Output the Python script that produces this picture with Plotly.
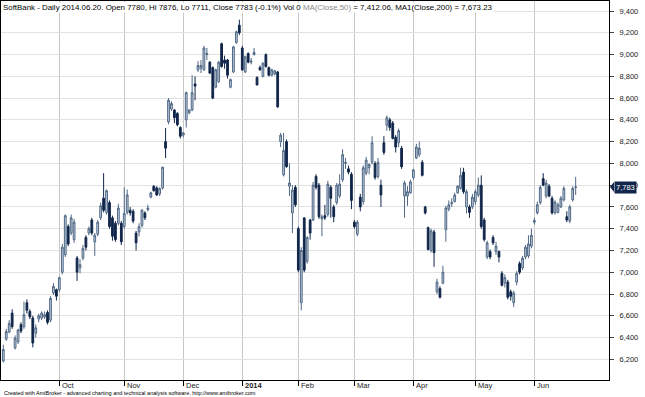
import pandas as pd
import plotly.graph_objects as go

# ---------------- data ----------------
holidays = ["2013-09-16", "2013-09-23", "2013-10-14", "2013-11-04", "2013-12-23",
            "2013-12-31", "2014-01-01", "2014-01-02", "2014-01-03", "2014-01-13",
            "2014-02-11", "2014-03-21", "2014-04-29", "2014-05-05", "2014-05-06"]
bdays = pd.bdate_range("2013-09-02", "2014-06-20")
dates = [d.strftime("%Y-%m-%d") for d in bdays if d.strftime("%Y-%m-%d") not in holidays]

opens = [
    6185, 6385, 6450, 6625, 6305, 6360, 6520, 6500, 6720, 6640, 6580, 6440, 6570, 6580, 6590, 6630, 6560, 6810, 6840,
    6840, 7000, 7160, 7420, 7360, 7300, 7130, 7040, 7130, 7320, 7360, 7480, 7280, 7350, 7500, 7680, 7550, 7640, 7500, 7450, 7450, 7450,
    7420, 7550, 7570, 7560, 7360, 7370, 7430, 7545, 7575, 7690, 7790, 7775, 7720, 7775, 8200, 8380, 8500, 8490, 8460, 8330,
    8260, 8400, 8465, 8490, 8730, 8860, 8875, 8860, 9000, 8930, 8880, 8700, 8750, 9100, 8950, 8950, 8700, 8840, 9110, 9270,
    9060, 8840, 9010, 8930, 9000, 8790, 8880, 8800, 9000, 8880, 8810, 8820, 8840, 8200, 7895, 8200, 7790, 7545, 7780,
    7400, 6720, 7500, 7100, 7480, 7480, 7880, 7800, 7490, 7520, 7530, 7780, 7600, 7640, 7700, 7850, 8000, 7950, 7900,
    7460, 7350, 7690, 7650, 7910, 7960, 8010, 8000, 7880, 7800, 8190, 8350, 8400, 8370, 8240, 8190, 8140, 7700, 7700, 7730,
    7870, 8050, 8080, 8010, 7600, 7410, 7200, 7370, 6820, 6850, 6900, 7390, 7580, 7630, 7650, 7730, 7770, 7920, 7600, 7600, 7600,
    7650, 7710, 7800, 7480, 7140, 7190, 7320, 7190, 7190, 6990, 6900, 6910, 6820, 6720, 6910, 7080, 7040, 7140, 7150, 7240,
    7460, 7545, 7640, 7860, 7700, 7790, 7680, 7545, 7550, 7600, 7665, 7510, 7470, 7665, 7780]
highs = [
    6335, 6480, 6560, 6660, 6420, 6480, 6540, 6730, 6750, 6660, 6600, 6520, 6620, 6640, 6640, 6650, 6780, 6900, 6850,
    6960, 7260, 7530, 7440, 7530, 7490, 7150, 7120, 7250, 7340, 7420, 7500, 7360, 7480, 7640, 7910, 7760, 7660, 7520, 7470, 7630, 7470,
    7780, 7760, 7600, 7580, 7380, 7450, 7580, 7560, 7620, 7740, 7800, 7790, 7780, 7970, 8325, 8600, 8570, 8500, 8470, 8340,
    8290, 8660, 8500, 8810, 8800, 8940, 8950, 9080, 9060, 8940, 8890, 8870, 8940, 9110, 8990, 8960, 8780, 9080, 9220, 9320,
    9080, 8990, 9020, 8970, 9060, 8800, 8900, 8930, 9010, 8890, 8870, 8860, 8850, 8280, 8280, 8220, 8000, 7800, 7800,
    7420, 7230, 7500, 7330, 7490, 7830, 7900, 7820, 7530, 7620, 7840, 7800, 7620, 7820, 7900, 8130, 8050, 7980, 7920,
    7480, 7480, 7720, 7980, 8060, 8000, 8250, 8020, 8050, 7850, 8250, 8440, 8420, 8390, 8260, 8320, 8160, 7840, 7790, 7850,
    7950, 8180, 8200, 8030, 7610, 7420, 7400, 7390, 6940, 6870, 7060, 7610, 7660, 7680, 7730, 7800, 7960, 7960, 7760, 7620, 7720,
    7760, 7870, 7890, 7500, 7290, 7210, 7340, 7280, 7200, 7010, 6980, 6930, 6840, 6830, 7010, 7100, 7150, 7250, 7340, 7400,
    7500, 7650, 7800, 7910, 7850, 7810, 7700, 7660, 7640, 7700, 7790, 7560, 7620, 7790, 7876]
lows = [
    6170, 6370, 6440, 6480, 6290, 6340, 6440, 6480, 6620, 6570, 6310, 6400, 6540, 6560, 6570, 6520, 6540, 6790, 6740,
    6820, 6980, 7140, 7240, 7340, 7270, 6920, 6990, 7110, 7200, 7340, 7340, 7150, 7330, 7480, 7550, 7530, 7400, 7290, 7280, 7430, 7250,
    7400, 7530, 7520, 7450, 7200, 7330, 7410, 7480, 7560, 7680, 7740, 7700, 7700, 7760, 8050, 8360, 8480, 8370, 8340, 8230,
    8240, 8330, 8450, 8480, 8580, 8840, 8830, 8850, 8950, 8820, 8590, 8690, 8740, 8880, 8870, 8780, 8690, 8830, 9100, 9180,
    8850, 8830, 8920, 8910, 8990, 8720, 8850, 8790, 8880, 8800, 8800, 8810, 8510, 8150, 7880, 7960, 7700, 7360, 7600,
    7000, 6650, 7000, 7080, 7300, 7470, 7760, 7490, 7330, 7480, 7510, 7500, 7460, 7620, 7680, 7830, 7950, 7900, 7580,
    7400, 7330, 7560, 7620, 7890, 7900, 7990, 7850, 7860, 7600, 8080, 8300, 8300, 8220, 8100, 8150, 7950, 7500, 7610, 7720,
    7850, 8040, 8060, 7880, 7530, 7200, 7180, 7050, 6800, 6760, 6890, 7280, 7560, 7600, 7640, 7720, 7760, 7720, 7540, 7500, 7580,
    7620, 7690, 7400, 7280, 7120, 7120, 7250, 7160, 7090, 6870, 6860, 6750, 6740, 6680, 6880, 6980, 7020, 7120, 7130, 7220,
    7440, 7530, 7620, 7790, 7680, 7690, 7530, 7530, 7540, 7590, 7650, 7460, 7450, 7650, 7711]
closes = [
    6290, 6455, 6530, 6500, 6395, 6470, 6460, 6610, 6650, 6590, 6350, 6490, 6600, 6625, 6610, 6540, 6760, 6870, 6780,
    6950, 7230, 7520, 7260, 7500, 7460, 7000, 7070, 7220, 7230, 7400, 7360, 7340, 7460, 7610, 7570, 7750, 7420, 7330, 7300, 7590, 7280,
    7540, 7710, 7545, 7470, 7270, 7420, 7570, 7500, 7590, 7730, 7750, 7710, 7770, 7965, 8140, 8580, 8550, 8420, 8355, 8250,
    8280, 8650, 8490, 8650, 8710, 8900, 8900, 9060, 9010, 8830, 8600, 8860, 8930, 8890, 8920, 8810, 8770, 9070, 9210, 9200,
    8860, 8980, 8930, 8940, 9020, 8720, 8860, 8920, 8890, 8810, 8860, 8850, 8520, 8260, 8120, 7970, 7820, 7755, 7620,
    7020, 7200, 7020, 7320, 7360, 7800, 7780, 7510, 7510, 7500, 7810, 7680, 7510, 7800, 7810, 8080, 8010, 7920, 7660,
    7420, 7460, 7600, 7960, 8030, 7990, 8190, 7870, 8010, 7710, 8100, 8420, 8330, 8230, 8150, 8300, 7970, 7820, 7740, 7830,
    7940, 8150, 8140, 7890, 7545, 7210, 7380, 7180, 6910, 6770, 7000, 7590, 7620, 7640, 7710, 7790, 7890, 7740, 7740, 7550, 7690,
    7740, 7800, 7420, 7300, 7270, 7140, 7270, 7240, 7140, 6880, 6950, 6770, 6780, 6810, 6990, 7000, 7130, 7230, 7260, 7340,
    7475, 7620, 7780, 7800, 7820, 7700, 7545, 7645, 7620, 7680, 7770, 7480, 7600, 7770, 7783]

month_ticks = ["2013-10-01", "2013-11-01", "2013-12-02", "2014-01-06", "2014-02-03",
               "2014-03-03", "2014-04-01", "2014-05-01", "2014-06-02"]
month_labels = ["Oct", "Nov", "Dec", "<b>2014</b>", "Feb", "Mar", "Apr", "May", "Jun"]

title_main = "SoftBank - Daily 2014.06.20. Open 7780, Hi 7876, Lo 7711, Close 7783 (-0.1%) Vol 0 "
title_ma50 = "MA(Close,50)"
title_rest = " = 7,412.06, MA1(Close,200) = 7,673.23"
footer = "Created with AmiBroker - advanced charting and technical analysis software. http://www.amibroker.com"

# ---------------- figure ----------------
FONT = "Liberation Sans, Arial, sans-serif"
UP_FILL, UP_LINE = "#c3cfdc", "#4f6886"
DN_FILL, DN_LINE = "#10264a", "#10264a"

W, H = 645, 397
ML, MR, MT, MB = 1, 36, 1, 17
PW, PH = W - ML - MR, H - MT - MB

y_lo, y_hi = 6010, 9492
x_lo, x_hi = -0.78, 205.3

fig = go.Figure(go.Candlestick(
    x=dates, open=opens, high=highs, low=lows, close=closes,
    increasing=dict(fillcolor=UP_FILL, line=dict(color=UP_LINE, width=1)),
    decreasing=dict(fillcolor=DN_FILL, line=dict(color=DN_LINE, width=1)),
    whiskerwidth=0, hoverinfo="skip", showlegend=False,
))

fig.update_layout(
    width=W, height=H,
    margin=dict(l=ML, r=MR, t=MT, b=MB, pad=0),
    paper_bgcolor="white", plot_bgcolor="white",
    font=dict(family=FONT, size=8, color="#222"),
    showlegend=False, boxgap=0.15,
)
fig.update_xaxes(
    type="category", categoryorder="trace", range=[x_lo, x_hi], automargin=False,
    rangeslider=dict(visible=False),
    tickmode="array", tickvals=month_ticks, ticktext=month_labels,
    showticklabels=False,
    ticks="outside", ticklen=5, tickcolor="#000",
    showgrid=True, gridcolor="#c6c6c6", gridwidth=1,
    showline=True, linecolor="#000", linewidth=1, mirror=True,
)
fig.update_yaxes(
    side="right", range=[y_lo, y_hi], tick0=6200, dtick=200, tickformat=",d",
    automargin=False,
    ticks="outside", ticklen=4, tickcolor="#444", ticklabelstandoff=4,
    showgrid=True, gridcolor="#e2e2e2", gridwidth=1,
    showline=True, linecolor="#000", linewidth=1, mirror=True,
    tickfont=dict(family=FONT, size=7.5, color="#222"),
    zeroline=False,
)

# month labels, left-aligned at their gridlines (as AmiBroker draws them)
for d, lab in zip(month_ticks, month_labels):
    fig.add_annotation(
        x=d, xref="x", yref="paper", y=-5.5 / PH, xanchor="left", yanchor="middle",
        xshift=1, text=lab, showarrow=False,
        font=dict(family=FONT, size=7.5, color="#222"),
    )

# title line
fig.add_annotation(
    xref="paper", yref="paper", x=1 / PW, y=1 - 1 / PH, xanchor="left", yanchor="top",
    text=title_main + "<span style='color:#8a8a8a'>" + title_ma50 + "</span>" + title_rest,
    showarrow=False, font=dict(family=FONT, size=7.9, color="#000"),
    bgcolor="white", borderpad=0,
)
# footer
fig.add_annotation(
    xref="paper", yref="paper", x=1 / PW, y=-13 / PH, xanchor="left", yanchor="middle",
    text=footer, showarrow=False, font=dict(family=FONT, size=5.5, color="#000"),
)

# last-price marker on the right axis
last = closes[-1]
py = (last - y_lo) / (y_hi - y_lo)
half = 5 / PH
tip = 1 + 1 / PW
base = 1 + 5 / PW
fig.add_shape(type="path", xref="paper", yref="paper",
              path=f"M {tip} {py} L {base} {py + half} L {base} {py - half} Z",
              fillcolor="#10264a", line=dict(width=0))
fig.add_annotation(
    xref="paper", yref="paper", x=base, y=py, xanchor="left", yanchor="middle",
    text=f"{last:,}", showarrow=False, font=dict(family=FONT, size=7.5, color="white"),
    bgcolor="#10264a", borderpad=1,
)

fig.write_html(
    "out.html",
    config={"displayModeBar": False, "staticPlot": True},
    post_script="document.body.style.margin='0px';document.body.style.padding='0px';"
                "document.body.style.overflow='hidden';",
)
